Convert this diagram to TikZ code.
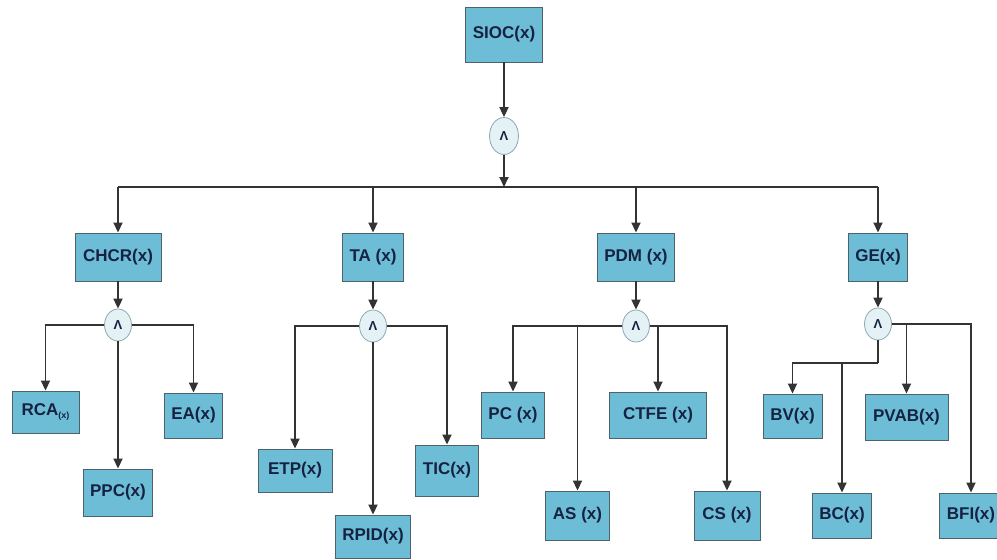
\documentclass[tikz,border=0pt]{standalone}
\usepackage{fontspec}
\setmainfont{Liberation Sans}
\usepackage{xcolor}
\usepackage{tikz}
\usetikzlibrary{shapes.geometric, arrows.meta, positioning, calc}

\definecolor{boxblue}{RGB}{110,189,214}
\definecolor{boxline}{RGB}{78,98,108}
\definecolor{andfill}{RGB}{228,242,246}
\definecolor{andline}{RGB}{140,168,174}
\definecolor{labelnavy}{RGB}{22,34,66}

\begin{document}
\begin{tikzpicture}[
    x=1pt, y=1pt,
    box/.style={rectangle, draw=boxline, line width=0.9pt, fill=boxblue, minimum height=46pt, inner xsep=7pt, text=labelnavy, font=\fontsize{17}{20}\selectfont\bfseries},
    andnode/.style={ellipse, draw=andline, line width=0.8pt, fill=andfill, minimum width=27pt, minimum height=32pt, inner sep=0pt, text=labelnavy, font=\fontsize{13}{13}\selectfont\bfseries},
    link/.style={line width=1.8pt, draw=black!80},
    arrow/.style={link, -{Triangle[length=10pt, width=9pt]}}
]
\useasboundingbox (0,0) rectangle (997,-560);

% Root
\node[box, minimum height=55pt, minimum width=75pt] (sioc) at (504,-34.5) {SIOC(x)};
\node[andnode, minimum width=29pt, minimum height=37pt] (and0) at (504,-136) {Λ};
\coordinate (bar) at (504,-187);

% First level
\node[box, minimum height=48pt, minimum width=86pt] (chcr) at (118,-257) {CHCR(x)};
\node[box, minimum height=48pt, minimum width=60pt] (ta) at (373,-257) {TA (x)};
\node[box, minimum height=48pt, minimum width=74pt] (pdm) at (636,-257) {PDM (x)};
\node[box, minimum height=48pt, minimum width=56pt] (ge) at (878,-257) {GE(x)};

\node[andnode] (and1) at (118,-325) {Λ};
\node[andnode] (and2) at (373,-326) {Λ};
\node[andnode] (and3) at (636,-326) {Λ};
\node[andnode] (and4) at (878,-324) {Λ};

% Second level
\node[box, minimum height=42pt, minimum width=67pt] (rca) at (45.5,-412) {RCA{\fontsize{9}{9}\selectfont\raisebox{-3pt}{(x)}}};
\node[box, minimum height=45pt, minimum width=56pt] (ea) at (193.5,-415.5) {EA(x)};
\node[box, minimum height=47pt, minimum width=67pt] (ppc) at (118,-492.5) {PPC(x)};

\node[box, minimum height=43pt, minimum width=74pt] (etp) at (295,-470.5) {ETP(x)};
\node[box, minimum height=51pt, minimum width=62pt] (tic) at (447,-470.5) {TIC(x)};
\node[box, minimum height=43pt, minimum width=71pt] (rpid) at (373,-536.5) {RPID(x)};

\node[box, minimum height=46pt, minimum width=63pt] (pc) at (513,-415) {PC (x)};
\node[box, minimum height=46pt, minimum width=97pt] (ctfe) at (658,-415) {CTFE (x)};
\node[box, minimum height=49pt, minimum width=61pt] (as) at (577.5,-515.5) {AS (x)};
\node[box, minimum height=49pt, minimum width=66pt] (cs) at (727,-515.5) {CS (x)};

\node[box, minimum height=44pt, minimum width=59pt] (bv) at (792.5,-416) {BV(x)};
\node[box, minimum height=46pt, minimum width=83pt] (pvab) at (906.5,-417) {PVAB(x)};
\node[box, minimum height=45pt, minimum width=57pt] (bc) at (842,-515.5) {BC(x)};
\node[box, minimum height=45pt, minimum width=62pt] (bfi) at (971,-515.5) {BFI(x)};

% Connections
\draw[arrow] (sioc) -- (and0);
\draw[arrow] (and0) -- (bar);
\draw[link] (chcr.north |- bar) -- (ge.north |- bar);
\foreach \n in {chcr, ta, pdm, ge}
  \draw[arrow] (\n.north |- bar) -- (\n);

\draw[arrow] (chcr) -- (and1);
\draw[arrow] (and1) -| (rca);
\draw[arrow] (and1) -| (ea);
\draw[arrow] (and1) -- (ppc);

\draw[arrow] (ta) -- (and2);
\draw[arrow] (and2) -| (etp);
\draw[arrow] (and2) -| (tic);
\draw[arrow] (and2) -- (rpid);

\draw[arrow] (pdm) -- (and3);
\draw[arrow] (and3) -| (pc);
\draw[arrow] (and3) -| (cs);
\draw[arrow] (as.north |- and3) -- (as);
\draw[arrow] (ctfe.north |- and3) -- (ctfe);

\draw[arrow] (ge) -- (and4);
\coordinate (gsplit) at (878,-363);
\draw[link] (and4) -- (gsplit);
\draw[arrow] (gsplit) -| (bv);
\draw[arrow] (bc.north |- gsplit) -- (bc);
\draw[arrow] (and4) -| (bfi);
\draw[arrow] (pvab.north |- and4) -- (pvab);

\end{tikzpicture}
\end{document}
